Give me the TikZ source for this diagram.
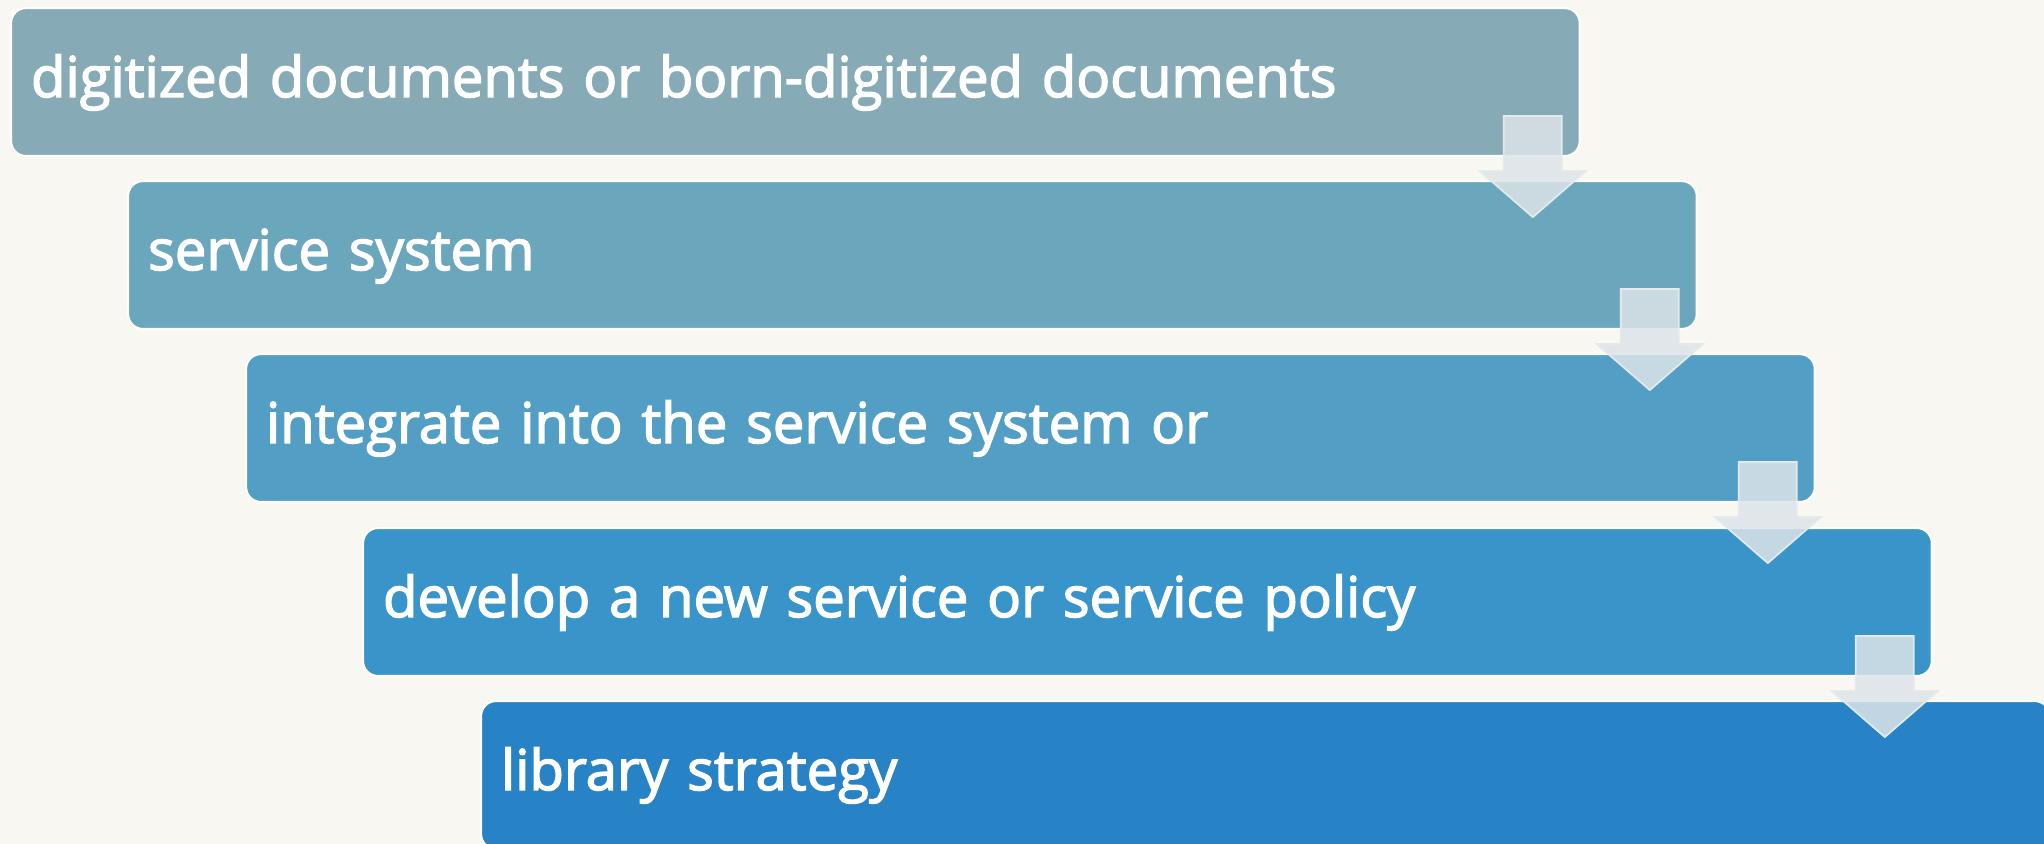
\documentclass[tikz,border=0pt]{standalone}
\usepackage{fontspec}
\setmainfont{Open Sans}
\newfontfamily\stepfont{Open Sans}[UprightFeatures={FakeBold=2.5}]
\usetikzlibrary{calc}

\definecolor{bgpaper}{HTML}{F8F7F2}
\definecolor{boxA}{HTML}{86ABB6}
\definecolor{boxB}{HTML}{6BA7BC}
\definecolor{boxC}{HTML}{529EC4}
\definecolor{boxD}{HTML}{3894C9}
\definecolor{boxE}{HTML}{2783C6}
\definecolor{arrowfill}{HTML}{DCE4E8}
\definecolor{arrowline}{HTML}{E4EAEC}

\begin{document}
\begin{tikzpicture}[x=0.02cm, y=-0.02cm,
  stepbox/.style={anchor=north west, draw=white, line width=1.2pt, rounded corners=0.3cm,
    minimum height=2.96cm, text width=30.58cm, inner xsep=0.4cm, inner ysep=0pt,
    text height=0.9cm, text depth=0.3cm, align=left, text=white,
    font=\stepfont\fontsize{32}{38}\selectfont},
  downarrow/.style={fill=arrowfill, fill opacity=0.85, draw=arrowline, line width=1pt, line join=miter}]

\fill[bgpaper] (0,0) rectangle (2044,844);
\useasboundingbox (0,0) rectangle (2044,844);
\clip (0,0) rectangle (2044,844);

\node[stepbox, fill=boxA] (b1) at (10,7) {digitized documents or born-digitized documents};
\node[stepbox, fill=boxB] (b2) at (127,180) {service system};
\node[stepbox, fill=boxC] (b3) at (245,353) {integrate into the service system or};
\node[stepbox, fill=boxD] (b4) at (362,527) {develop a new service or service policy};
\node[stepbox, fill=boxE] (b5) at (480,700) {library strategy};

% arrows between the steps
\draw[downarrow] ($(b1.south east)+(-77,-41)$) -- ++(58,0) -- ++(0,55) -- ++(24,0) -- ++(-53,46) -- ++(-53,-46) -- ++(24,0) -- cycle;
\draw[downarrow] ($(b2.south east)+(-77,-41)$) -- ++(58,0) -- ++(0,55) -- ++(24,0) -- ++(-53,46) -- ++(-53,-46) -- ++(24,0) -- cycle;
\draw[downarrow] ($(b3.south east)+(-77,-41)$) -- ++(58,0) -- ++(0,55) -- ++(24,0) -- ++(-53,46) -- ++(-53,-46) -- ++(24,0) -- cycle;
\draw[downarrow] ($(b4.south east)+(-77,-41)$) -- ++(58,0) -- ++(0,55) -- ++(24,0) -- ++(-53,46) -- ++(-53,-46) -- ++(24,0) -- cycle;

\end{tikzpicture}
\end{document}
